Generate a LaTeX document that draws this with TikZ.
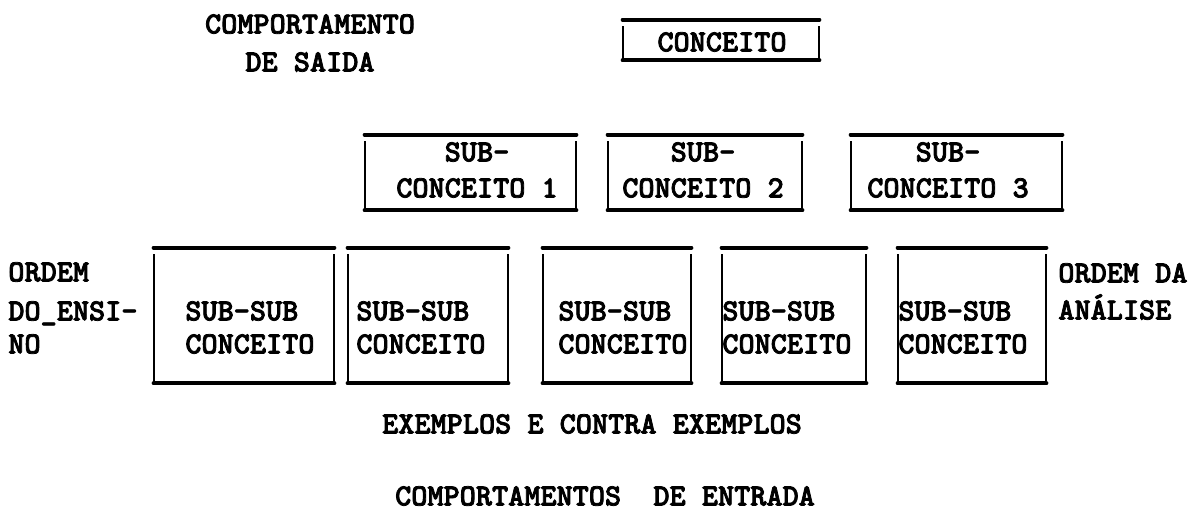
\documentclass[tikz,border=0pt]{standalone}
\usepackage{fontspec}
\usepackage{tikz}
\newfontfamily\maquina{lmmonolt10-bold.otf}[FakeBold=2.5]

\begin{document}
\begin{tikzpicture}[x=0.02cm,y=-0.02cm,
  texto/.style={font=\maquina\fontsize{17.5}{18.8}\selectfont, inner sep=0pt},
  quadro/.style={inner sep=0pt, minimum height=#1},
  traco/.style={line width=2.3pt, line cap=round},
  lado/.style={line width=1.1pt}]
\useasboundingbox (0,0) rectangle (1199,513);

\node[quadro=0.8cm, minimum width=3.92cm] (conc) at (721,40) {};
\node[quadro=1.5cm, minimum width=4.22cm] (sub1) at (470.5,172.5) {};
\node[quadro=1.5cm, minimum width=3.88cm] (sub2) at (705,172.5) {};
\node[quadro=1.5cm, minimum width=4.22cm] (sub3) at (956.5,172.5) {};
\node[quadro=2.7cm, minimum width=3.6cm] (ss1) at (244,315.5) {};
\node[quadro=2.7cm, minimum width=3.2cm] (ss2) at (428,315.5) {};
\node[quadro=2.7cm, minimum width=2.96cm] (ss3) at (617,315.5) {};
\node[quadro=2.7cm, minimum width=2.88cm] (ss4) at (794,315.5) {};
\node[quadro=2.7cm, minimum width=2.96cm] (ss5) at (972,315.5) {};

\foreach \q in {conc,sub1,sub2,sub3,ss1,ss2,ss3,ss4,ss5}{
  \draw[traco] (\q.north west) -- (\q.north east);
  \draw[traco] (\q.south west) -- (\q.south east);
  \draw[lado] ([yshift=-0.13cm]\q.north west) -- (\q.south west);
  \draw[lado] ([yshift=-0.13cm]\q.north east) -- (\q.south east);
}

\node[texto, align=center] (saida) at (310,43)%
{COMPORTAMENTO\\[2.8pt]DE SAIDA};
\node[texto] (tconc) at (722,42) {CONCEITO};
\node[texto, align=center] (tsub1) at (477,170) {SUB-\\[1.7pt]CONCEITO 1};
\node[texto, align=center] (tsub2) at (703,170) {SUB-\\[1.7pt]CONCEITO 2};
\node[texto, align=center] (tsub3) at (948,170) {SUB-\\[1.7pt]CONCEITO 3};
\node[texto, align=left, anchor=west] (tss1) at (185,327.5) {SUB-SUB\\CONCEITO};
\node[texto, align=left, anchor=west] (tss2) at (356,327.5) {SUB-SUB\\CONCEITO};
\node[texto, align=left, anchor=west] (tss3) at (558,327.5) {SUB-SUB\\CONCEITO};
\node[texto, align=left, anchor=west] (tss4) at (722,327.5) {SUB-SUB\\CONCEITO};
\node[texto, align=left, anchor=west] (tss5) at (898,327.5) {SUB-SUB\\CONCEITO};
\node[texto, align=left, anchor=west] (ensino) at (8,308)%
{ORDEM\\[3.4pt]DO\_ENSI-\\NO};
\node[texto, align=left, anchor=west] (analise) at (1058,291.5)%
{ORDEM DA\\[2.3pt]ANÁLISE};
\node[texto] (exemplos) at (592,424) {EXEMPLOS E CONTRA EXEMPLOS};
\node[texto] (entrada) at (605,496) {COMPORTAMENTOS\ \ DE ENTRADA};
\end{tikzpicture}
\end{document}
